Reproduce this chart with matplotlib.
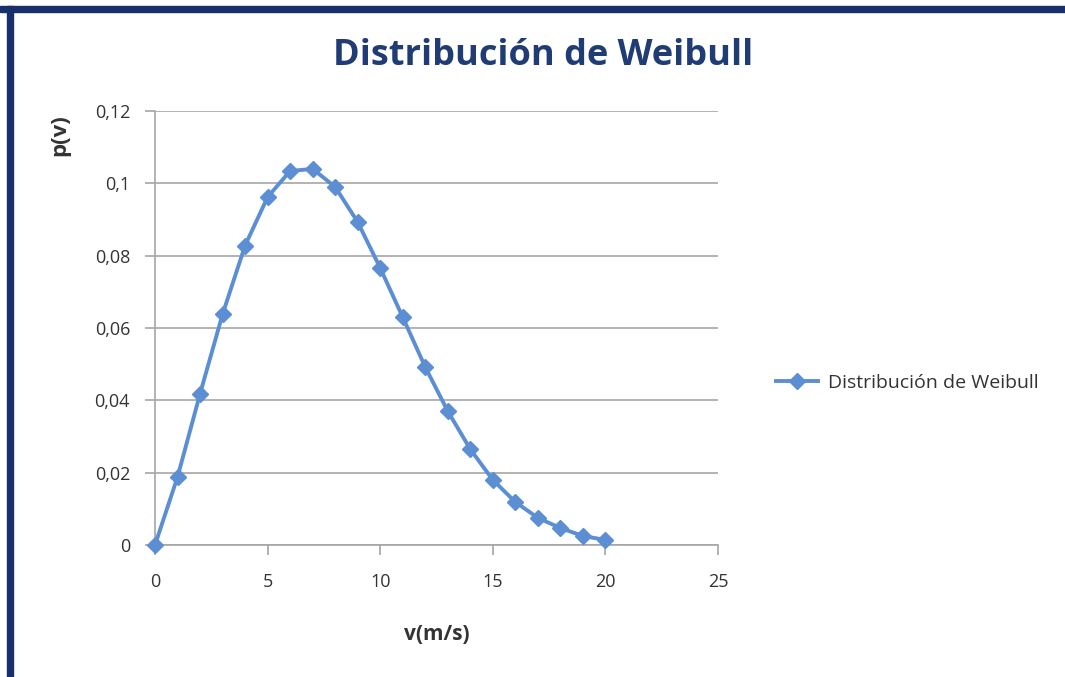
import matplotlib
matplotlib.use('Agg')
import matplotlib.pyplot as plt
from matplotlib.patches import Rectangle
from matplotlib.ticker import FuncFormatter

# Wind speed (m/s) and Weibull probability
speeds = [0, 1, 2, 3, 4, 5, 6, 7, 8, 9, 10, 11, 12, 13, 14, 15, 16, 17, 18, 19, 20]
probs = [0.0, 0.0188, 0.0418, 0.0638, 0.0828, 0.0962, 0.1034, 0.1040, 0.0990,
         0.0893, 0.0766, 0.0630, 0.0492, 0.0370, 0.0265, 0.0180, 0.0119,
         0.0075, 0.0047, 0.0025, 0.0014]
x_ticks = [0, 5, 10, 15, 20, 25]
y_ticks = [0, 0.02, 0.04, 0.06, 0.08, 0.10, 0.12]

plt.rcParams['font.family'] = ['Open Sans', 'DejaVu Sans']

W, H = 1065, 677
fig = plt.figure(figsize=(W / 100, H / 100), dpi=100)
fig.patch.set_facecolor('white')

# dark frame on top and left edge
navy = '#17306b'
fig.add_artist(Rectangle((0, 1 - 12 / H), 1, 6 / H, transform=fig.transFigure,
                         color=navy, zorder=5))
fig.add_artist(Rectangle((7 / W, 0), 6 / W, 1 - 6 / H, transform=fig.transFigure,
                         color=navy, zorder=5))

ax = fig.add_axes([155 / W, 1 - 545 / H, (718 - 155) / W, (545 - 111) / H])
line_color = '#5b8ed3'
ax.plot(speeds, probs, color=line_color, lw=2.8, marker='D', markersize=8,
        markeredgecolor=line_color, label='Distribución de Weibull', zorder=3,
        clip_on=False)

ax.set_xlim(0, 25)
ax.set_ylim(0, 0.12)
ax.set_xticks(x_ticks)
ax.set_yticks(y_ticks)
ax.yaxis.set_major_formatter(FuncFormatter(lambda v, p: f'{v:g}'.replace('.', ',')))
ax.grid(axis='y', color='#a6a6a6', lw=1.2)
ax.set_axisbelow(True)
for side in ['top', 'right']:
    ax.spines[side].set_visible(False)
for side in ['left', 'bottom']:
    ax.spines[side].set_color('#a6a6a6')
    ax.spines[side].set_linewidth(1.2)
ax.tick_params(axis='both', colors='#a6a6a6', labelcolor='#333333',
               labelsize=13, length=7, width=1.2)
ax.tick_params(axis='x', pad=13)
ax.tick_params(axis='y', pad=11)

fig.text(543 / W, 1 - 56 / H, 'Distribución de Weibull', ha='center', va='center',
         fontsize=26, fontweight='bold', color='#1f3c74')
fig.text(437 / W, 1 - 635 / H, 'v(m/s)', ha='center', va='center',
         fontsize=15, fontweight='bold', color='#333333')
fig.text(60 / W, 1 - 135 / H, 'p(v)', ha='center', va='center', rotation=90,
         fontsize=16, fontweight='bold', color='#333333')

fig.legend(loc='center left', bbox_to_anchor=(758 / W, 1 - 383 / H), frameon=False,
           fontsize=14, handlelength=2.2, handletextpad=0.5, labelcolor='#333333')

fig.savefig('out.png', dpi=100, facecolor='white')
